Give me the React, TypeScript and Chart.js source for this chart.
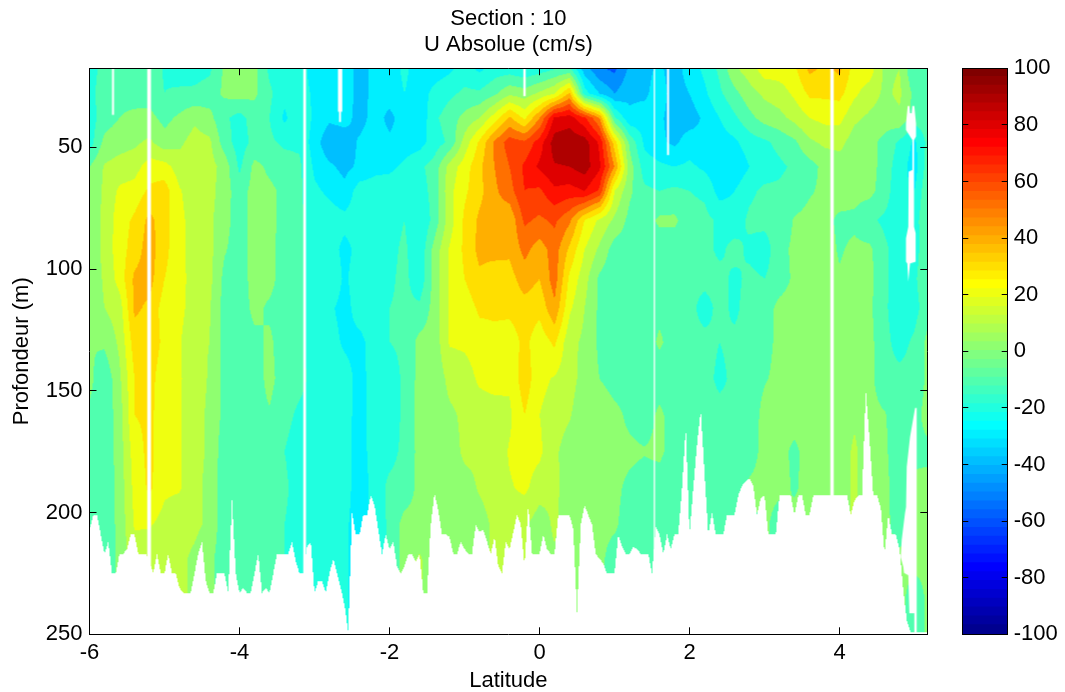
import React, { useEffect, useRef } from "react";
import { Chart, registerables } from "chart.js";
Chart.register(...registerables);

const FONT = "'Liberation Sans', Arial, sans-serif";

const latitudes = [-6,-5.8,-5.6,-5.4,-5.2,-5,-4.8,-4.6,-4.4,-4.2,-4,-3.8,-3.6,-3.4,-3.2,-3,-2.8,-2.6,-2.4,-2.2,-2,-1.8,-1.6,-1.4,-1.2,-1,-0.8,-0.6,-0.4,-0.2,0,0.2,0.4,0.6,0.8,1,1.2,1.4,1.6,1.8,2,2.2,2.4,2.6,2.8,3,3.2,3.4,3.6,3.8,4,4.2,4.4,4.6,4.8,5,5.2];
const depths = [18,28,38,48,58,68,80,92,104,116,130,145,160,175,190,205,220,235,250];

const r18 = [-15,-6,-5,-5,-5,-11,-15,-14,-12,2,3,3,-12,-19,-15,-25,-20,-25,-33,-28,-25,-18,-25,-25,-22,-15,-22,-15,-15,-18,-15,-10,-8,-35,-48,-52,-38,-33,-28,-35,-25,-18,-8,8,15,25,25,28,42,38,42,25,25,8,10,-10,-8];
const r28 = [-15,-2,-3,-5,-4,-10,-8,-8,-5,2,4,2,-8,-17,-15,-22,-22,-25,-33,-28,-25,-20,-25,-17,-12,-8,-8,-2,8,5,12,20,42,-15,-30,-40,-32,-32,-25,-35,-30,-22,-12,-3,6,12,15,22,32,32,33,22,15,8,12,-3,-8];
const r38 = [-15,-5,0,3,3,-3,2,8,3,-8,-14,-5,-10,-22,-12,-22,-28,-25,-35,-25,-33,-25,-28,-12,-5,3,10,25,42,28,50,82,85,72,50,-8,-28,-25,-28,-35,-35,-28,-20,-12,-3,4,7,13,20,23,23,12,8,5,8,-5,-5];
const r48 = [-15,3,6,8,12,4,8,14,12,-5,-15,-7,-8,-12,-12,-25,-38,-38,-28,-24,-28,-25,-24,-15,-8,14,32,52,65,62,75,95,97,95,78,35,-2,-22,-28,-32,-25,-28,-25,-22,-15,-12,-7,-2,8,12,13,5,3,-3,-12,-22,-5];
const r58 = [0,11,14,16,25,24,15,14,14,6,-12,3,-2,-5,-8,-22,-28,-33,-28,-23,-22,-18,-12,-6,14,25,38,50,60,72,82,89,90,95,82,50,5,-15,-18,-20,-18,-22,-27,-28,-20,-15,-12,-8,-4,3,5,8,5,-5,-15,-25,-2];
const r68 = [2,12,22,24,32,35,21,14,14,4,-5,4,2,-2,-8,-18,-22,-27,-15,-15,-15,-15,-15,-6,17,28,37,48,56,70,68,78,76,80,68,20,2,-8,-10,-8,-10,-12,-24,-20,-12,-8,-8,-6,-1,2,5,3,3,-5,-18,-20,1];
const r80 = [2,13,25,32,43,34,23,15,12,4,-6,5,5,-6,-8,-15,-15,-17,-15,-15,-14,-10,-20,-6,15,32,42,45,42,62,58,62,52,30,18,8,-3,-5,2,2,-6,-7,-12,-15,-8,-7,-7,1,3,3,-2,-2,-8,-12,-15,-15,2];
const r92 = [0,14,25,35,45,33,23,15,13,1,-5,5,4,-6,-8,-15,-15,-23,-17,-15,-13,-8,-18,4,21,32,43,45,42,53,45,55,38,20,8,-5,-5,-6,-6,-6,-6,-7,-12,-7,-12,-15,-3,2,3,4,-1,2,2,-8,-15,-15,1];
const r104 = [0,12,24,42,44,30,24,15,13,-3,-5,4,4,-6,-8,-15,-10,-22,-14,-14,-12,-7,-17,4,21,30,38,32,36,45,40,55,28,14,-2,-7,-7,-7,-7,-5,-7,-7,-7,-12,-8,-10,-5,2,3,4,1,4,3,-8,-15,-12,1];
const r116 = [1,10,15,42,38,25,23,15,11,-4,-6,3,-2,-6,-8,-15,-18,-24,-15,-15,-10,-8,-8,4,21,24,32,32,33,36,33,48,22,10,-2,-7,-7,-7,-3,-6,-7,-14,-7,-12,-6,-5,3,4,4,4,3,4,2,-8,-17,-14,-2];
const r130 = [0,2,12,35,35,28,21,12,10,-4,-6,-3,2,-6,-8,-15,-15,-22,-23,-15,-10,-7,3,4,21,22,25,27,24,33,24,32,13,8,-2,-6,-6,-6,2,-6,-7,-7,-10,-8,-7,-4,3,4,4,4,4,4,3,-7,-14,-8,4];
const r145 = [3,-8,8,30,33,25,21,15,9,-3,-6,-5,3,-5,-7,-13,-15,-15,-24,-15,-18,-7,3,3,13,15,22,25,22,36,23,19,14,6,0,-6,-7,-7,-7,-7,-7,-7,-12,-8,-7,-1,3,4,4,4,4,4,3,-7,-7,-6,3];
const r160 = [-2,-7,5,30,32,25,21,14,8,-3,-6,-3,-1,-7,-12,-15,-15,-16,-24,-15,-20,-6,3,3,8,12,14,14,18,30,20,15,11,3,10,4,-3,-7,3,-7,-7,-7,-7,-8,-7,4,3,4,4,4,4,8,3,1,-7,-3,4];
const r175 = [-3,-8,5,25,33,22,21,14,8,-6,-6,-5,-7,-10,-15,-15,-15,-16,-25,-15,-14,-7,3,3,5,12,12,14,21,24,22,12,5,3,9,4,3,1,3,-7,-6,-6,-7,-7,-7,5,3,-2,4,4,4,12,3,2,-7,-2,-2];
const r190 = [-5,-8,4,23,32,22,21,13,7,-6,-6,-6,-6,-8,-15,-15,-15,-16,-25,-17,-7,-6,3,2,4,6,11,14,19,22,15,12,6,4,8,3,-3,-7,-7,-7,-10,-6,-7,-7,3,5,3,-1,3,4,4,12,3,3,-6,2,3];
const r205 = [-5,-7,3,21,21,16,13,12,8,-7,-7,-6,-6,-10,-15,-15,-15,-18,-25,-17,-8,4,3,3,3,5,6,12,12,12,4,12,3,2,3,2,-6,-6,-6,-6,-7,-6,-7,-7,-7,3,-7,3,3,4,4,12,3,3,-5,3,4];
const r220 = [-5,-7,3,15,12,12,12,8,3,-7,-7,-6,-6,-10,-15,-15,-15,-18,-25,-17,-8,4,12,3,3,5,6,12,12,12,4,8,3,2,3,-6,-6,-6,-6,-6,-7,-6,-7,-7,-7,3,-7,3,3,3,3,8,3,3,3,3,3];
const r235 = [-5,-7,3,15,12,12,12,8,3,-7,-7,-6,-6,-10,-15,-15,-15,-18,-25,-17,-8,4,12,3,3,5,6,12,12,12,4,8,3,2,3,-6,-6,-6,-6,-6,-7,-6,-7,-7,-7,3,-7,3,3,3,3,8,3,3,4,-6,3];
const r250 = [-5,-7,3,15,12,12,12,8,3,-7,-7,-6,-6,-10,-15,-15,-15,-18,-25,-17,-8,4,12,3,3,5,6,12,12,12,4,8,3,2,3,-6,-6,-6,-6,-6,-7,-6,-7,-7,-7,3,-7,3,3,3,3,8,3,3,4,-6,3];
const rows = [r18,r28,r38,r48,r58,r68,r80,r92,r104,r116,r130,r145,r160,r175,r190,r205,r220,r235,r250];

// deepest valid depth, one value per 0.05 degree of latitude from -6
const BOTTOM_START = -6;
const BOTTOM_STEP = 0.05;
const bottomDepth = [
207,201,201,209,217,212,225,225,217,217,215,209,209,217,217,217,220,225,217,225,
225,217,225,225,231,233,233,233,225,217,212,228,233,233,225,225,225,233,195,225,
233,231,233,233,225,217,233,231,233,225,217,217,217,217,212,220,225,225,214,212,
233,228,228,233,225,219,225,231,238,249,200,209,209,201,201,193,197,207,217,209,
215,212,222,225,222,217,217,220,217,233,233,205,192,199,209,209,210,217,217,212,
215,217,217,205,208,207,212,217,210,222,225,212,215,208,201,205,222,197,217,217,
217,209,215,217,217,201,201,201,201,207,241,205,197,201,205,217,219,221,225,225,
225,209,214,217,217,214,215,217,217,217,225,206,209,217,209,215,209,209,190,165,
209,190,172,158,184,209,200,209,209,209,201,201,201,193,189,187,186,189,201,194,
193,209,209,209,193,193,193,193,201,193,193,201,201,193,193,193,193,193,193,193,
193,193,193,201,195,193,193,150,170,193,193,198,217,201,209,209,215,232,245,249,
249,249,249,249,249];

// missing-data regions as [lat, depth] outlines
const gapA = [[-5.7,17],[-5.673,17],[-5.673,36.7],[-5.7,36.7]];
const gapB = [[-5.23,17],[-5.18,17],[-5.18,250],[-5.23,250]];
const gapC = [[-3.15,17],[-3.113,17],[-3.113,250],[-3.15,250]];
const gapD = [[-2.687,17],[-2.63,17],[-2.63,35.4],[-2.647,35.4],[-2.647,39.6],[-2.673,39.6],[-2.673,35.4],[-2.687,35.4]];
const gapE = [[-0.216,17],[-0.184,17],[-0.184,29],[-0.216,29]];
const gapF = [[1.523,17],[1.54,17],[1.54,250],[1.523,250]];
const gapG = [[1.7,17],[1.727,17],[1.727,53.2],[1.7,53.2]];
const gapH = [[3.877,17],[3.923,17],[3.923,250],[3.877,250]];
const patchUpper = [[4.909,33],[4.931,33],[4.94,36.05],[4.962,36.05],[4.971,33],[4.997,33],[5.02,40.2],[5.02,45.6],[4.993,47],[4.993,82.6],[5.015,85.3],[5.015,97],[4.94,97.7],[4.917,105.2],[4.904,97.7],[4.886,97],[4.886,87.4],[4.917,82.6],[4.922,60],[4.971,59.3],[4.971,47],[4.886,42.9],[4.886,40.2]];
const patchLower = [[5.007,157.07],[4.94,169],[4.896,181.3],[4.887,197.7],[4.873,200.2],[4.829,211.3],[4.816,218.3],[4.851,222.4],[4.86,224.8],[4.917,225.7],[4.931,241.3],[4.997,241.3],[4.997,249.1],[5.029,249.1],[5.029,157.07]];
const gaps = [gapA,gapB,gapC,gapD,gapE,gapF,gapG,gapH,patchUpper,patchLower];

const xTickValues = [-6,-4,-2,0,2,4];
const yTickValues = [50,100,150,200,250];
const colorTickValues = [-100,-80,-60,-40,-20,0,20,40,60,80,100];

function jet(i: number): [number, number, number] {
  const clamp = (v: number) => Math.max(0, Math.min(1, v));
  let r = 0, g = 0, b = 0;
  if (i <= 8) b = 0.5 + i / 16; else if (i <= 24) { b = 1; g = (i - 8) / 16; }
  else if (i <= 40) { r = (i - 24) / 16; g = 1; b = 1 - (i - 24) / 16; }
  else if (i <= 56) { r = 1; g = 1 - (i - 40) / 16; }
  else r = 1 - (i - 56) / 16;
  return [Math.round(clamp(r) * 255), Math.round(clamp(g) * 255), Math.round(clamp(b) * 255)];
}
function bandColor(v: number): [number, number, number] {
  const L = Math.max(-100, Math.min(90, Math.floor(v / 10) * 10));
  return jet(Math.floor(((L + 100) / 200) * 64) + 1);
}
function locate(arr: number[], v: number): [number, number] {
  let i = 0;
  while (i < arr.length - 2 && arr[i + 1] <= v) i++;
  const t = Math.max(0, Math.min(1, (v - arr[i]) / (arr[i + 1] - arr[i])));
  return [i, t];
}
function fieldAt(lat: number, d: number) {
  const [j, tx] = locate(latitudes, lat);
  const [i, ty] = locate(depths, d);
  const a = rows[i][j] * (1 - tx) + rows[i][j + 1] * tx;
  const b = rows[i + 1][j] * (1 - tx) + rows[i + 1][j + 1] * tx;
  return a * (1 - ty) + b * ty;
}
function bottomAt(lat: number) {
  const f = (lat - BOTTOM_START) / BOTTOM_STEP;
  const i = Math.max(0, Math.min(bottomDepth.length - 2, Math.floor(f)));
  const t = Math.max(0, Math.min(1, f - i));
  return bottomDepth[i] * (1 - t) + bottomDepth[i + 1] * t;
}

const contourPlugin = {
  id: "contourField",
  beforeDatasetsDraw(chart: any) {
    const { ctx, chartArea: a, scales } = chart;
    const x = scales.x, y = scales.y;
    const w = Math.round(a.right - a.left), h = Math.round(a.bottom - a.top);
    const off = document.createElement("canvas");
    off.width = w; off.height = h;
    const oc = off.getContext("2d")!;
    const img = oc.createImageData(w, h);
    for (let px = 0; px < w; px++) {
      const lat = x.getValueForPixel(a.left + px + 0.5);
      const bot = bottomAt(lat);
      for (let py = 0; py < h; py++) {
        const d = y.getValueForPixel(a.top + py + 0.5);
        if (d > bot) continue;
        const c = bandColor(fieldAt(lat, d));
        const k = (py * w + px) * 4;
        img.data[k] = c[0]; img.data[k + 1] = c[1]; img.data[k + 2] = c[2]; img.data[k + 3] = 255;
      }
    }
    oc.putImageData(img, 0, 0);
    oc.globalCompositeOperation = "destination-out";
    oc.fillStyle = "#000";
    for (const poly of gaps) {
      oc.beginPath();
      poly.forEach(([la, de], n) => {
        const X = x.getPixelForValue(la) - a.left, Y = y.getPixelForValue(de) - a.top;
        if (n) oc.lineTo(X, Y); else oc.moveTo(X, Y);
      });
      oc.closePath();
      oc.fill();
    }
    ctx.drawImage(off, a.left, a.top);
  },
};

const fitWidth = (v: number) => (s: any) => { s.width = v; };
const fitHeight = (v: number) => (s: any) => { s.height = v; };
const tickFont = { family: FONT, size: 22 };

export default function App() {
  const mainRef = useRef<HTMLCanvasElement>(null);
  const barRef = useRef<HTMLCanvasElement>(null);
  useEffect(() => {
    const points: { x: number; y: number; v: number }[] = [];
    depths.forEach((d, i) => latitudes.forEach((la, j) => points.push({ x: la, y: d, v: rows[i][j] })));
    const tickSet = (vals: number[]) => (s: any) => { s.ticks = vals.map((value) => ({ value })); };
    const main = new Chart(mainRef.current!, {
      type: "scatter",
      data: { datasets: [{ label: "U Absolue (cm/s)", data: points, pointRadius: 0, showLine: false }] },
      plugins: [contourPlugin],
      options: {
        responsive: false, animation: false, events: [],
        layout: { padding: { left: 0, right: 137.7, top: 0, bottom: 0 } },
        plugins: {
          legend: { display: false }, tooltip: { enabled: false },
          title: {
            display: true, fullSize: false, text: ["Section : 10", "U Absolue (cm/s)"], color: "#000",
            font: { family: FONT, size: 22, weight: "normal", lineHeight: 1.18 }, padding: { top: 6, bottom: 10.3 },
          },
        },
        scales: {
          x: {
            type: "linear", position: "bottom", min: -6, max: 5.17, afterBuildTicks: tickSet(xTickValues), afterFit: fitHeight(57.7),
            grid: { drawOnChartArea: false, tickLength: -7, tickColor: "#000", z: 1 }, border: { color: "#000", z: 1 },
            ticks: { color: "#000", font: tickFont, padding: 12, maxRotation: 0, autoSkip: false },
            title: { display: true, text: "Latitude", color: "#000", font: tickFont, padding: { top: 0, bottom: -2 } },
          },
          x2: {
            type: "linear", position: "top", min: -6, max: 5.17, afterBuildTicks: tickSet(xTickValues), afterFit: fitHeight(0),
            grid: { drawOnChartArea: false, tickLength: -7, tickColor: "#000", z: 1 }, border: { color: "#000", z: 1 }, ticks: { display: false },
          },
          y: {
            type: "linear", position: "left", reverse: true, min: 17.55, max: 250, afterBuildTicks: tickSet(yTickValues), afterFit: fitWidth(89.5),
            grid: { drawOnChartArea: false, tickLength: -7, tickColor: "#000", z: 1 }, border: { color: "#000", z: 1 },
            ticks: { color: "#000", font: tickFont, padding: 14, autoSkip: false },
            title: { display: true, text: "Profondeur (m)", color: "#000", font: tickFont, padding: { top: 9, bottom: 0 } },
          },
          y2: {
            type: "linear", position: "right", reverse: true, min: 17.55, max: 250, afterBuildTicks: tickSet(yTickValues), afterFit: fitWidth(0),
            grid: { drawOnChartArea: false, tickLength: -7, tickColor: "#000", z: 1 }, border: { color: "#000", z: 1 }, ticks: { display: false },
          },
        },
      } as any,
    });
    const step = 200 / 64;
    const datasets = Array.from({ length: 64 }, (_, i) => {
      const lo = -100 + i * step;
      const [r, g, b] = jet(i + 1);
      return { data: [[lo, i === 63 ? 100 : lo + step + 0.3]], backgroundColor: `rgb(${r},${g},${b})`, grouped: false, barPercentage: 1, categoryPercentage: 1, yAxisID: "y", xAxisID: "x" };
    });
    const bar = new Chart(barRef.current!, {
      type: "bar",
      data: { labels: ["U"], datasets: datasets as any },
      options: {
        responsive: false, animation: false, events: [],
        layout: { padding: { left: 962.3, top: 68.3, bottom: 57.7, right: 0 } },
        plugins: { legend: { display: false }, tooltip: { enabled: false } },
        scales: {
          x: { position: "bottom", afterFit: fitHeight(0), ticks: { display: false }, grid: { drawOnChartArea: false, drawTicks: false, z: 1 }, border: { color: "#000", z: 1 } },
          x2: { type: "category", labels: ["U"], position: "top", afterFit: fitHeight(0), ticks: { display: false }, grid: { drawOnChartArea: false, drawTicks: false, z: 1 }, border: { color: "#000", z: 1 } },
          y: {
            type: "linear", position: "right", min: -100, max: 100, afterBuildTicks: tickSet(colorTickValues), afterFit: fitWidth(57.3),
            grid: { drawOnChartArea: false, tickLength: -6, tickColor: "#000", z: 1 }, border: { color: "#000", z: 1 },
            ticks: { color: "#000", font: tickFont, padding: 12, autoSkip: false },
          },
          y2: {
            type: "linear", position: "left", min: -100, max: 100, afterBuildTicks: tickSet(colorTickValues), afterFit: fitWidth(0),
            grid: { drawOnChartArea: false, tickLength: -6, tickColor: "#000", z: 1 }, border: { color: "#000", z: 1 }, ticks: { display: false },
          },
        },
      } as any,
    });
    return () => { main.destroy(); bar.destroy(); };
  }, []);
  const style: React.CSSProperties = { position: "absolute", left: 0, top: 0, display: "block" };
  return (
    <div style={{ position: "absolute", left: 0, top: 0, width: 1065, height: 692, background: "#fff", overflow: "hidden" }}>
      <canvas ref={mainRef} width={1065} height={692} style={style} />
      <canvas ref={barRef} width={1065} height={692} style={style} />
    </div>
  );
}
